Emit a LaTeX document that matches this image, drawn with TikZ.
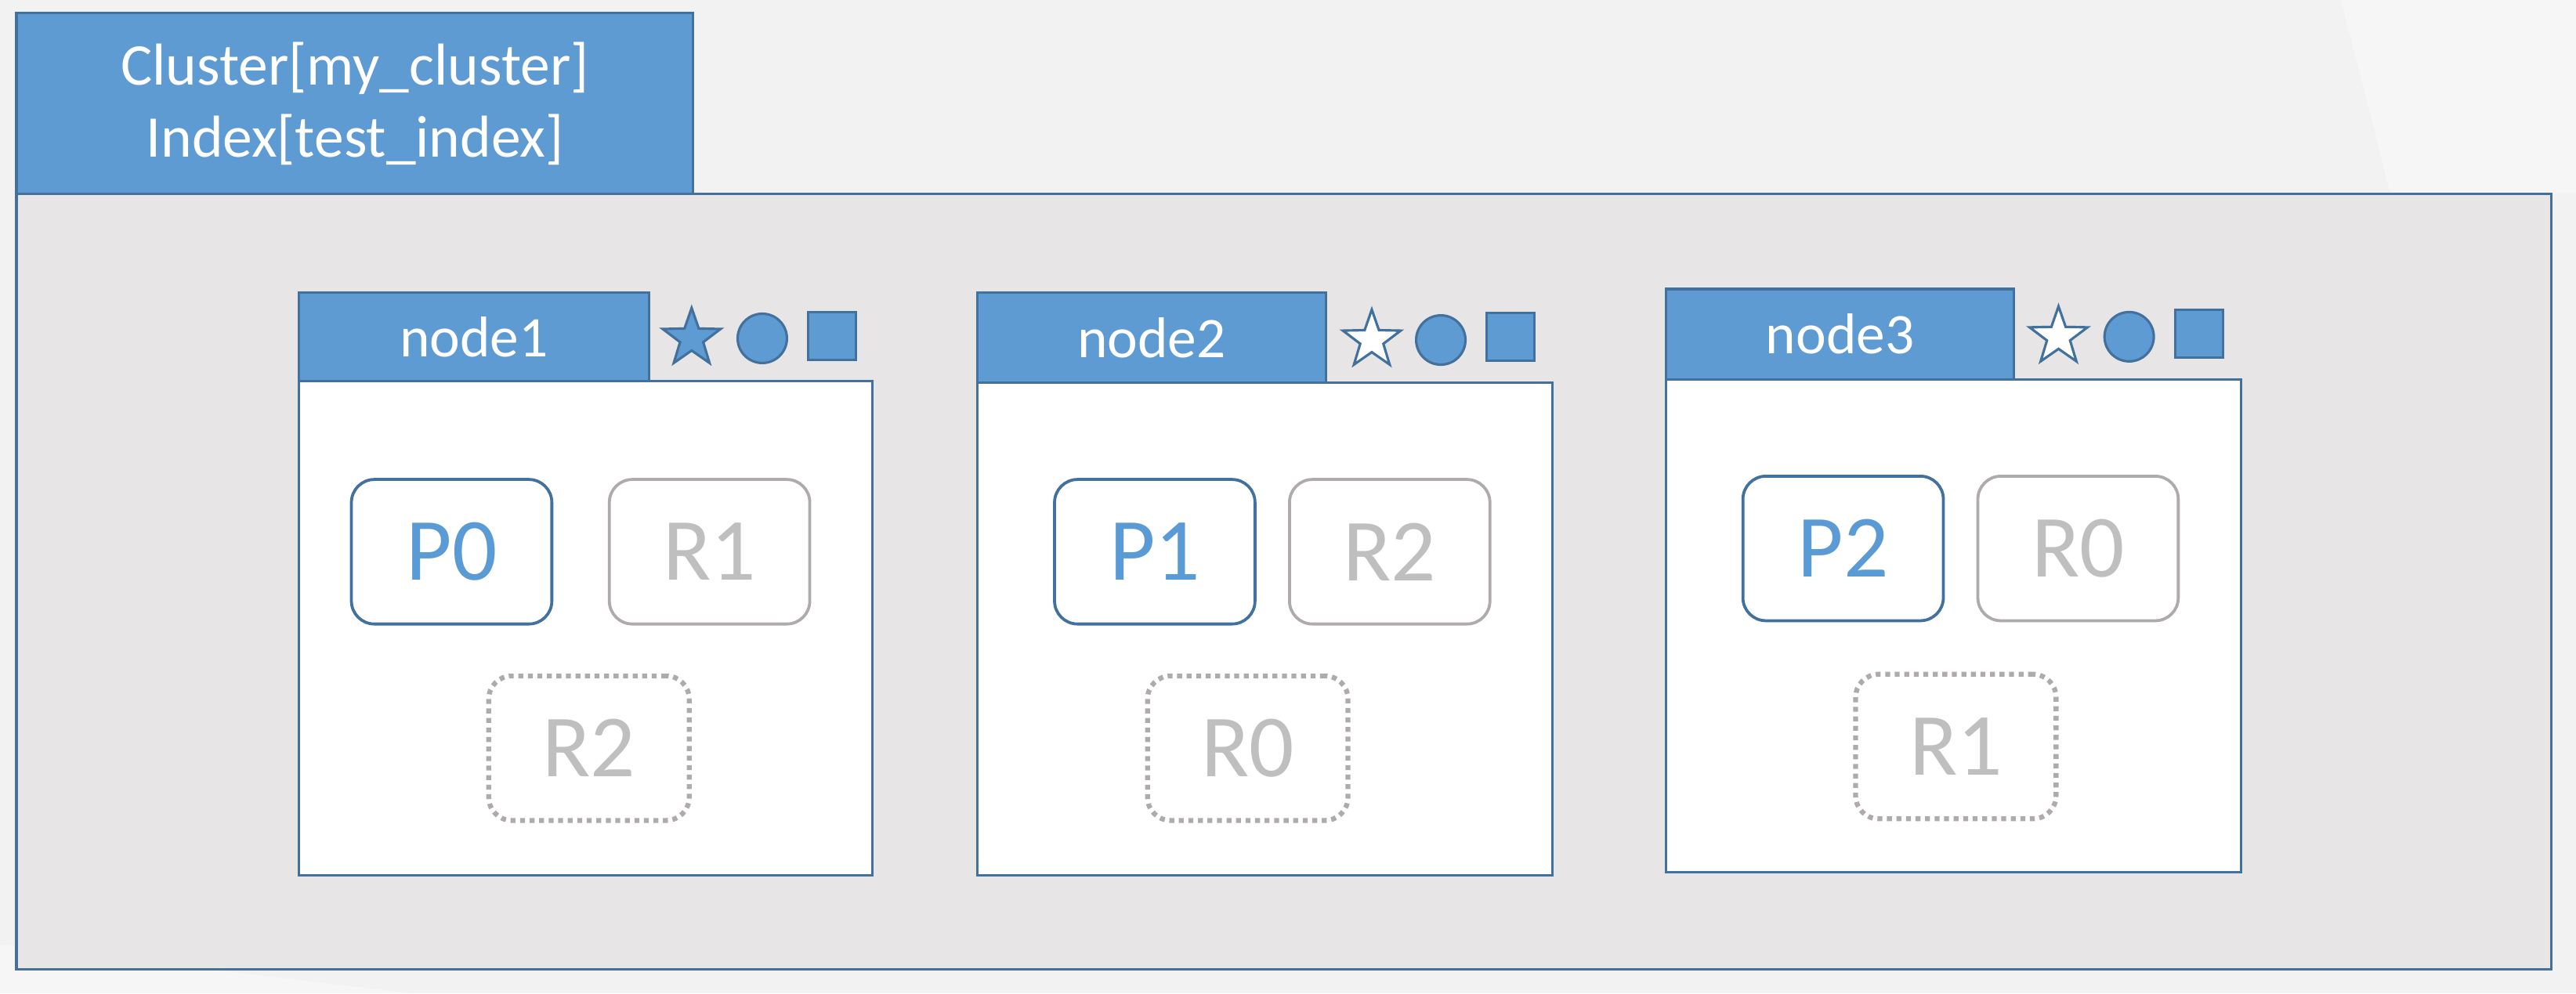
\documentclass[tikz,border=0pt]{standalone}
\usepackage{fontspec}
\setmainfont{Carlito}
\usetikzlibrary{shapes.geometric}
\definecolor{bgcol}{HTML}{F2F2F2}
\definecolor{bgl}{HTML}{F6F6F6}
\definecolor{hdfill}{HTML}{5F9BD3}
\definecolor{hdline}{HTML}{41719C}
\definecolor{bodyfill}{HTML}{E7E5E6}
\definecolor{pline}{HTML}{41719C}
\definecolor{ptext}{HTML}{5B9BD5}
\definecolor{rline}{HTML}{AFABAB}
\definecolor{rtext}{HTML}{BFBFBF}
\tikzset{
  hdbox/.style={draw=hdline, fill=hdfill, line width=1.5pt, text=white, inner sep=0pt, outer sep=0pt, anchor=north west, align=center, font=\fontsize{35}{44}\selectfont},
  bodybox/.style={draw=hdline, fill=bodyfill, line width=1.5pt, inner sep=0pt, outer sep=0pt, anchor=north west},
  hostbox/.style={draw=hdline, fill=white, line width=1.5pt, inner sep=0pt, outer sep=0pt, anchor=north west},
  pbox/.style={draw=pline, fill=white, line width=1.8pt, rounded corners=14pt, minimum width=122pt, minimum height=88pt, inner sep=0pt, anchor=north west, text=ptext, font=\fontsize{54}{60}\selectfont},
  rbox/.style={draw=rline, fill=white, line width=1.8pt, rounded corners=14pt, minimum width=122pt, minimum height=88pt, inner sep=0pt, anchor=north west, text=rtext, font=\fontsize{54}{60}\selectfont},
  ubox/.style={draw=rline, fill=white, line width=3pt, dash pattern=on 3pt off 2.8pt, rounded corners=14pt, minimum width=122pt, minimum height=88pt, inner sep=0pt, anchor=north west, text=rtext, font=\fontsize{54}{60}\selectfont},
  starico/.style={star, star points=5, star point ratio=2.5, minimum size=37pt, inner sep=0pt, draw=hdline, line width=1.5pt},
  circico/.style={circle, minimum size=30pt, inner sep=0pt, draw=hdline, fill=hdfill, line width=1.5pt},
  sqico/.style={rectangle, minimum size=29pt, inner sep=0pt, draw=hdline, fill=hdfill, line width=1.5pt},
}
\begin{document}
\begin{tikzpicture}[x=1pt,y=-1pt]
\useasboundingbox (0,0) rectangle (1568,604.7);
\fill[bgcol] (0,0) rectangle (1568,604.7);
\fill[bgl] (1425,0) -- (1568,0) -- (1568,118) -- (1455,118) -- cycle;
\fill[bgl] (0,575) -- (250,604.7) -- (0,604.7) -- cycle;
% cluster
\node[bodybox, minimum width=1543pt, minimum height=472pt] (clbody) at (10,118) {};
\node[hdbox, minimum width=412pt, minimum height=110pt, font=\fontsize{36}{44}\selectfont] (clhead) at (10,8) {Cluster[my\_cluster]\\Index[test\_index]};
% node1
\node[hostbox, minimum width=349pt, minimum height=301pt] (n1box) at (182,232) {};
\node[hdbox, minimum width=213pt, minimum height=54pt] (n1head) at (182,178) {node1};
\node[starico, fill=hdfill] (n1star) at (421,206) {};
\node[circico] (n1circ) at (464,206) {};
\node[sqico] (n1sq) at (506.5,204.5) {};
\node[pbox] (p0) at (213,291) {P0};
\node[rbox] (n1r1) at (370,291) {R1};
\node[ubox] (n1r2) at (296,410) {R2};
% node2
\node[hostbox, minimum width=350pt, minimum height=300pt] (n2box) at (595,233) {};
\node[hdbox, minimum width=212pt, minimum height=55pt] (n2head) at (595,178) {node2};
\node[starico, fill=white] (n2star) at (835,207) {};
\node[circico] (n2circ) at (877,207) {};
\node[sqico] (n2sq) at (919.5,205) {};
\node[pbox] (p1) at (641,291) {P1};
\node[rbox] (n2r2) at (784,291) {R2};
\node[ubox] (n2r0) at (697,410) {R0};
% node3
\node[hostbox, minimum width=350pt, minimum height=300pt] (n3box) at (1014,231) {};
\node[hdbox, minimum width=212pt, minimum height=55pt] (n3head) at (1014,176) {node3};
\node[starico, fill=white] (n3star) at (1253,205) {};
\node[circico] (n3circ) at (1296,205) {};
\node[sqico] (n3sq) at (1338.5,203) {};
\node[pbox] (p2) at (1060,289) {P2};
\node[rbox] (n3r0) at (1203,289) {R0};
\node[ubox] (n3r1) at (1128,409) {R1};
\end{tikzpicture}
\end{document}
